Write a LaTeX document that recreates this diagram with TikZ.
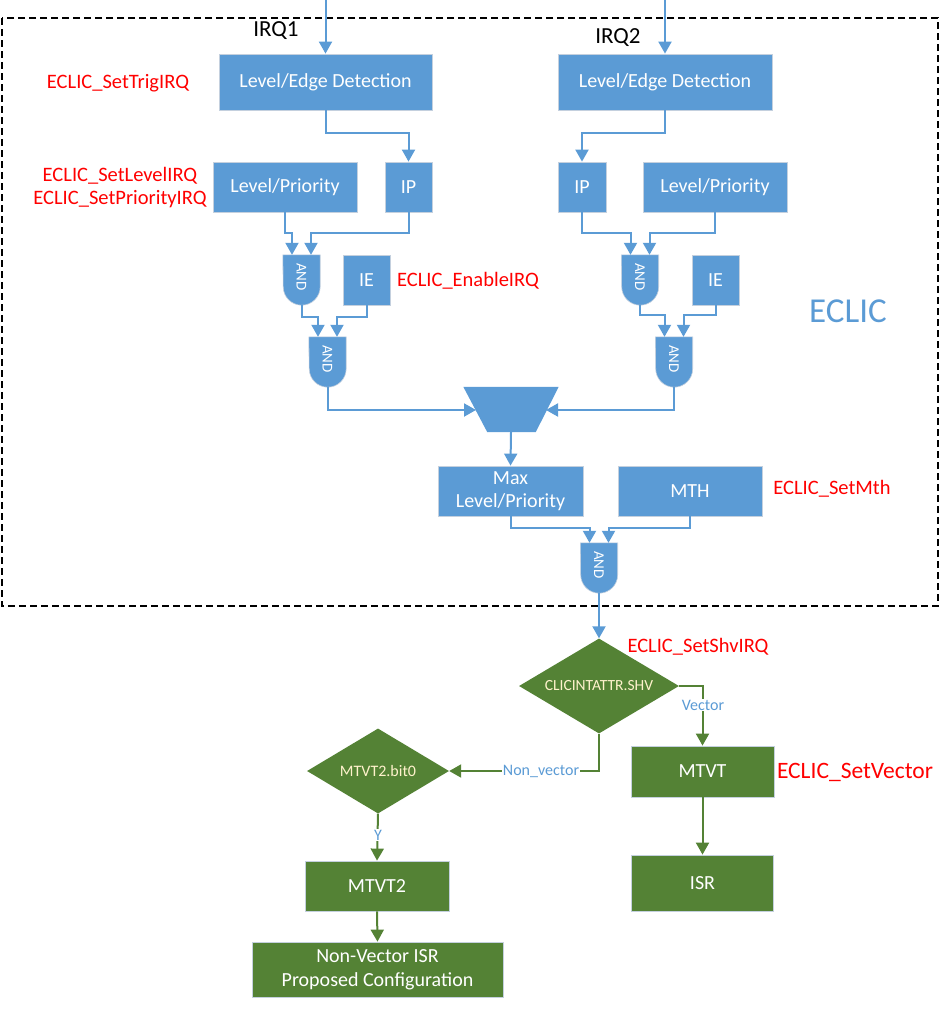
\documentclass[tikz,border=0pt]{standalone}
\usepackage{fontspec}
\setmainfont{Carlito}
\usetikzlibrary{arrows.meta,shapes.geometric,calc}
\definecolor{eblue}{RGB}{91,155,213}
\definecolor{egreen}{RGB}{84,130,53}
\definecolor{ered}{RGB}{255,0,0}
\definecolor{eborder}{RGB}{196,208,222}
\definecolor{dtext}{RGB}{255,242,204}
\tikzset{
  bbox/.style={rectangle, fill=eblue, draw=eborder, line width=0.8pt, text=white,
    font=\fontsize{20}{23}\selectfont, align=center, inner sep=0pt},
  gbox/.style={bbox, fill=egreen},
  redlbl/.style={text=ered, font=\fontsize{20.5}{23.5}\selectfont, inner sep=0pt},
  barr/.style={draw=eblue, line width=2pt, -{Triangle[width=13pt,length=12pt]}},
  garr/.style={draw=egreen, line width=2pt, -{Triangle[width=13pt,length=12pt]}},
  gate/.style={rectangle, minimum width=37pt, minimum height=50pt, inner sep=0pt},
  gtext/.style={text=white, font=\fontsize{15}{15}\selectfont, rotate=-90, inner sep=0pt},
  flowlbl/.style={text=eblue, fill=white, font=\fontsize{16}{17}\selectfont, inner sep=1pt},
  diam/.style={diamond, fill=egreen, text=dtext, inner sep=0pt},
}
\newcommand{\gateshape}[1]{%
  \filldraw[fill=eblue, draw=eborder, line width=0.6pt] (#1.north west) -- (#1.north east)
    -- ([yshift=18.5pt]#1.south east) arc[start angle=0, end angle=-180, radius=18.5pt] -- cycle;}
\begin{document}
\begin{tikzpicture}[x=1pt, y=-1pt]
\useasboundingbox (0,0) rectangle (948,1009);
% ECLIC dashed frame
\draw[black, line width=1.6pt, dash pattern=on 7pt off 4pt] (2,18) rectangle (938,606);
\node[text=eblue, font=\fontsize{35}{40}\selectfont, inner sep=0pt] (eclic) at (848,311) {ECLIC};

% inputs
\coordinate (irq1in) at (325.5,0);
\coordinate (irq2in) at (665,0);
\node[font=\fontsize{23}{26}\selectfont, inner sep=0pt] (irq1) at (276,31) {IRQ1};
\node[font=\fontsize{23}{26}\selectfont, inner sep=0pt] (irq2) at (618,38) {IRQ2};

% boxes
\node[bbox, minimum width=213pt, minimum height=56pt] (led1) at (325.5,82) {Level/Edge Detection};
\node[bbox, minimum width=214pt, minimum height=56pt] (led2) at (665,82) {Level/Edge Detection};
\node[bbox, minimum width=144pt, minimum height=50pt] (lp1) at (285,187) {Level/Priority};
\node[bbox, minimum width=47pt, minimum height=50pt] (ip1) at (408.5,187) {IP};
\node[bbox, minimum width=48pt, minimum height=50pt] (ip2) at (582,187) {IP};
\node[bbox, minimum width=144pt, minimum height=50pt] (lp2) at (715,187) {Level/Priority};
\node[bbox, minimum width=47pt, minimum height=50pt] (ie1) at (366.5,280) {IE};
\node[bbox, minimum width=47pt, minimum height=50pt] (ie2) at (715.5,280) {IE};
\node[bbox, minimum width=145pt, minimum height=50pt] (maxb) at (510.5,491) {Max\\Level/Priority};
\node[bbox, minimum width=144pt, minimum height=50pt] (mth) at (690,491) {MTH};

% gates
\node[gate] (g1) at (301.5,280) {};
\node[gate] (g2) at (327.5,362) {};
\node[gate] (g3) at (640,280) {};
\node[gate] (g4) at (674,362) {};
\node[gate] (g5) at (599,568) {};
\foreach \g in {g1,g2,g3,g4,g5}{\gateshape{\g}}
\foreach \g in {g1,g2,g3,g4,g5}{\node[gtext] (\g t) at ([yshift=3pt]\g.center) {AND};}

% mux trapezoid
\node[rectangle, minimum width=95pt, minimum height=45pt, inner sep=0pt] (mux) at (511,409.5) {};
\fill[eblue] (mux.north west) -- (mux.north east) -- ([xshift=-23pt]mux.south east) -- ([xshift=24pt]mux.south west) -- cycle;
\coordinate (muxL) at (476,410);
\coordinate (muxR) at (546,410);

% red labels
\node[redlbl] (l1) at (118,83) {ECLIC\_SetTrigIRQ};
\node[redlbl] (l2) at (120,176) {ECLIC\_SetLevelIRQ};
\node[redlbl] (l3) at (120,199) {ECLIC\_SetPriorityIRQ};
\node[redlbl] (l4) at (468,281) {ECLIC\_EnableIRQ};
\node[redlbl] (l5) at (832,489) {ECLIC\_SetMth};
\node[redlbl] (l6) at (698,647) {ECLIC\_SetShvIRQ};
\node[redlbl, font=\fontsize{23.5}{26}\selectfont] (l7) at (855,772) {ECLIC\_SetVector};

% blue connectors
\draw[barr] (irq1in) -- (led1.north);
\draw[barr] (irq2in) -- (led2.north);
\draw[barr] (led1.south) -- ++(0,23) -| (ip1.north);
\draw[barr] (led2.south) -- ++(0,23) -| (ip2.north);
\draw[barr] (lp1.south) -- ++(0,21) -| ([xshift=-9.5pt]g1.north);
\draw[barr] (ip1.south) -- ++(0,21) -| ([xshift=9.5pt]g1.north);
\draw[barr] (ip2.south) -- ++(0,21) -| ([xshift=-9.5pt]g3.north);
\draw[barr] (lp2.south) -- ++(0,21) -| ([xshift=9.5pt]g3.north);
\draw[barr] (g1.south) -- ++(0,12) -| ([xshift=-9.5pt]g2.north);
\draw[barr] (ie1.south) -- ++(0,12) -| ([xshift=9.5pt]g2.north);
\draw[barr] (g3.south) -- ++(0,10) -| ([xshift=-9.5pt]g4.north);
\draw[barr] (ie2.south) -- ++(0,10) -| ([xshift=9.5pt]g4.north);
\draw[barr] (g2.south) |- (muxL);
\draw[barr] (g4.south) |- (muxR);
\draw[barr] (mux.south) -- (maxb.north);
\draw[barr] (maxb.south) -- ++(0,12) -| ([xshift=-9.5pt]g5.north);
\draw[barr] (mth.south) -- ++(0,12) -| ([xshift=9.5pt]g5.north);

% flow part
\node[diam, minimum width=160pt, minimum height=95pt, aspect=1.68, font=\fontsize{15.5}{17}\selectfont] (d1) at (599,686) {CLICINTATTR.SHV};
\node[diam, minimum width=142pt, minimum height=85pt, aspect=1.67, font=\fontsize{16}{18}\selectfont] (d2) at (378,771) {MTVT2.bit0};
\node[gbox, minimum width=143pt, minimum height=51pt] (mtvt) at (702.5,771.5) {MTVT};
\node[gbox, minimum width=142pt, minimum height=56pt] (isr) at (702.5,883) {ISR};
\node[gbox, minimum width=144pt, minimum height=50pt] (mtvt2) at (377,886) {MTVT2};
\node[gbox, minimum width=251pt, minimum height=55pt, font=\fontsize{20}{24}\selectfont] (nvisr) at (377.5,969.5) {Non-Vector ISR\\Proposed Configuration};

\draw[barr] (g5.south) -- (d1.north);
\draw[garr] (d1.east) -| (mtvt.north);
\draw[garr] (d1.south) |- (d2.east);
\draw[garr] (mtvt.south) -- (isr.north);
\draw[garr] (d2.south) -- (mtvt2.north);
\draw[garr] (mtvt2.south) -- (nvisr.north);
\node[flowlbl] (vlbl) at (703,705) {Vector};
\node[flowlbl] (nvlbl) at (541,771) {Non\_vector};
\node[flowlbl] (ylbl) at (378,835) {Y};
\end{tikzpicture}
\end{document}
